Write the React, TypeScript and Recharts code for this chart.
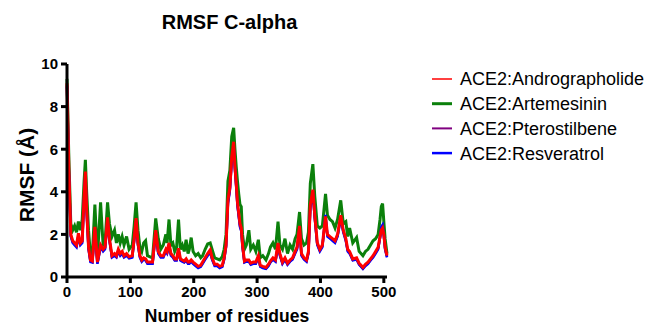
import React from 'react';
import { LineChart, Line, XAxis, YAxis, Label } from 'recharts';

const residues = [
  0, 3, 6, 9, 12, 15, 18, 21, 24, 27,
  29, 31, 34, 37, 40, 44, 48, 53, 57, 60,
  64, 67, 71, 75, 78, 81, 84, 87, 90, 94,
  98, 103, 106, 109, 112, 115, 118, 121, 124, 127,
  131, 135, 140, 144, 148, 152, 156, 158, 161, 164,
  167, 170, 173, 176, 179, 182, 185, 188, 191, 193,
  196, 199, 203, 207, 211, 214, 218, 222, 226, 229,
  233, 237, 241, 245, 248, 251, 254, 257, 260, 263,
  265, 267, 269, 271, 273, 275, 277, 280, 283, 287,
  290, 294, 298, 302, 305, 309, 314, 318, 321, 325,
  329, 333, 336, 340, 344, 348, 352, 356, 360, 363,
  367, 370, 374, 378, 381, 384, 388, 391, 395, 399,
  403, 408, 411, 415, 419, 423, 427, 432, 436, 440,
  443, 446, 451, 457, 461, 464, 467, 471, 475, 479,
  483, 487, 491, 494, 496, 498, 500, 502, 505,
];

const artemesinin = [
  9.3, 5.5, 2.5, 2.2, 2.4, 2.1, 2.6, 2.2, 2.7, 4.5,
  5.5, 4.0, 2.2, 1.0, 1.0, 3.4, 0.9, 3.5, 1.5, 1.6,
  3.5, 2.5, 1.9, 2.2, 1.6, 2.0, 1.6, 1.9, 1.5, 1.9,
  1.3, 1.5, 2.4, 3.5, 2.2, 1.4, 1.2, 1.6, 1.7, 1.0,
  0.95, 0.9, 2.75, 1.8, 1.3, 1.5, 2.0, 1.6, 2.7, 1.5,
  1.6, 1.2, 1.4, 2.7, 1.3, 1.5, 1.2, 1.75, 1.1, 1.3,
  1.85, 1.2, 1.0, 1.1, 0.9, 1.0, 1.3, 1.55, 1.6, 1.3,
  0.9, 0.85, 0.8, 0.95, 1.3, 2.0, 4.5, 5.0, 6.6, 7.0,
  6.0, 5.2, 4.5, 3.9, 3.4, 3.3, 2.0, 1.3, 1.5, 2.2,
  1.3, 1.5, 1.2, 1.75, 0.9, 1.0, 0.8, 1.1, 1.4, 1.6,
  1.3, 2.6, 1.5, 1.3, 1.8, 1.1, 1.5, 1.3, 1.8, 2.0,
  3.05, 1.8, 1.5, 1.6, 2.1, 4.4, 5.3, 3.8, 2.4, 2.3,
  2.4, 3.9, 2.9, 2.7, 2.6, 2.3, 2.7, 3.6, 2.5, 2.6,
  1.9, 2.3, 1.6, 1.85, 1.2, 1.1, 1.0, 1.2, 1.3, 1.5,
  1.7, 1.8, 2.0, 2.7, 3.3, 3.45, 2.6, 1.8, 1.1,
];

const andrographolide = [
  9.1, 5.0, 2.0, 1.7, 1.6, 1.5, 2.05, 1.6, 1.7, 3.8,
  4.95, 3.2, 1.4, 0.8, 0.75, 2.35, 0.7, 1.5, 1.3, 1.4,
  2.8, 1.8, 1.0, 1.1, 1.0, 1.3, 1.1, 1.2, 1.0, 1.1,
  0.95, 1.0, 1.8, 2.76, 1.6, 1.0, 0.8, 0.9, 0.85, 0.7,
  0.7, 0.7, 2.2, 1.2, 1.0, 1.0, 1.3, 1.2, 1.6, 1.1,
  1.0, 0.85, 0.85, 1.35, 0.85, 0.8, 0.75, 0.85, 0.7, 0.7,
  0.8, 0.7, 0.6, 0.5, 0.55, 0.7, 0.9, 1.1, 1.27, 0.9,
  0.6, 0.6, 0.5, 0.55, 0.9, 1.5, 3.6, 4.2, 5.65, 6.35,
  5.2, 4.4, 3.5, 3.0, 2.5, 2.3, 1.5, 0.75, 0.8, 0.8,
  0.65, 0.7, 0.7, 1.0, 0.55, 0.5, 0.45, 0.6, 0.75, 0.9,
  0.8, 1.6, 1.1, 0.7, 0.9, 0.65, 0.8, 0.9, 1.2, 1.4,
  2.4, 1.1, 0.9, 0.8, 1.2, 3.4, 4.1, 2.9, 1.6, 1.3,
  1.5, 2.85, 2.0, 1.9, 1.8, 1.7, 2.0, 2.9, 2.2, 1.8,
  1.3, 1.2, 0.85, 0.9, 0.65, 0.55, 0.45, 0.6, 0.7, 0.85,
  1.0, 1.2, 1.4, 1.9, 2.2, 2.3, 2.0, 1.4, 1.0,
];

const pterostilbene = [
  9.0, 4.9, 1.95, 1.65, 1.55, 1.45, 1.95, 1.55, 1.65, 3.7,
  4.85, 3.1, 1.35, 0.75, 0.7, 2.25, 0.65, 1.45, 1.25, 1.35,
  2.7, 1.75, 0.95, 1.05, 0.95, 1.25, 1.05, 1.15, 0.95, 1.05,
  0.9, 0.95, 1.75, 2.65, 1.55, 0.95, 0.75, 0.85, 0.8, 0.65,
  0.65, 0.65, 2.1, 1.15, 0.95, 0.95, 1.25, 1.15, 1.5, 1.05,
  0.95, 0.8, 0.8, 1.3, 0.8, 0.75, 0.7, 0.8, 0.65, 0.65,
  0.75, 0.65, 0.55, 0.45, 0.5, 0.65, 0.85, 1.05, 1.2, 0.85,
  0.55, 0.55, 0.45, 0.5, 0.85, 1.45, 3.5, 4.1, 5.5, 6.2,
  5.1, 4.3, 3.4, 2.9, 2.4, 2.2, 1.45, 0.7, 0.75, 0.75,
  0.6, 0.65, 0.65, 0.95, 0.5, 0.45, 0.4, 0.55, 0.7, 0.85,
  0.75, 1.5, 1.05, 0.65, 0.85, 0.6, 0.75, 0.85, 1.15, 1.35,
  2.3, 1.05, 0.85, 0.75, 1.15, 3.3, 4.0, 2.8, 1.55, 1.25,
  1.45, 2.75, 1.95, 1.85, 1.75, 1.65, 1.95, 2.8, 2.15, 1.75,
  1.25, 1.15, 0.8, 0.85, 0.6, 0.5, 0.4, 0.55, 0.65, 0.8,
  0.95, 1.15, 1.35, 1.85, 2.15, 2.25, 1.95, 1.35, 0.95,
];

const resveratrol = [
  8.95, 4.85, 1.9, 1.6, 1.5, 1.4, 1.9, 1.5, 1.6, 3.65,
  4.8, 3.05, 1.3, 0.7, 0.68, 2.2, 0.62, 1.4, 1.2, 1.3,
  2.65, 1.7, 0.92, 1.0, 0.92, 1.2, 1.0, 1.1, 0.92, 1.0,
  0.88, 0.92, 1.7, 2.6, 1.5, 0.92, 0.72, 0.82, 0.78, 0.62,
  0.62, 0.62, 2.05, 1.1, 0.92, 0.92, 1.2, 1.1, 1.45, 1.0,
  0.92, 0.78, 0.78, 1.25, 0.78, 0.72, 0.68, 0.78, 0.62, 0.62,
  0.72, 0.62, 0.52, 0.42, 0.48, 0.62, 0.82, 1.0, 1.15, 0.82,
  0.52, 0.52, 0.42, 0.48, 0.82, 1.4, 3.45, 4.05, 5.45, 6.15,
  5.05, 4.25, 3.35, 2.85, 2.35, 2.15, 1.4, 0.68, 0.72, 0.72,
  0.58, 0.62, 0.62, 0.92, 0.48, 0.42, 0.38, 0.52, 0.68, 0.82,
  0.72, 1.45, 1.0, 0.62, 0.82, 0.58, 0.72, 0.82, 1.1, 1.3,
  2.25, 1.0, 0.82, 0.72, 1.1, 3.25, 3.95, 2.75, 1.5, 1.2,
  1.4, 2.92, 1.9, 1.8, 1.7, 1.6, 1.9, 2.75, 2.1, 1.7,
  1.2, 1.1, 0.78, 0.82, 0.58, 0.48, 0.38, 0.52, 0.62, 0.78,
  0.92, 1.1, 1.3, 1.85, 2.35, 2.45, 1.95, 1.3, 0.92,
];

const xTicks = [0, 100, 200, 300, 400, 500];
const yTicks = [0, 2, 4, 6, 8, 10];

const legendItems = [
  { name: 'ACE2:Andrographolide', color: '#ff0000', width: 1.5 },
  { name: 'ACE2:Artemesinin', color: '#0b800b', width: 3 },
  { name: 'ACE2:Pterostilbene', color: '#800080', width: 2 },
  { name: 'ACE2:Resveratrol', color: '#0000ff', width: 2.5 },
];

const data = residues.map((r, i) => ({
  r,
  andro: andrographolide[i],
  artem: artemesinin[i],
  ptero: pterostilbene[i],
  resv: resveratrol[i],
}));

const FONT = '"Liberation Sans", Arial, Helvetica, sans-serif';
const tickStyle = { fill: '#000', fontSize: 15, fontWeight: 700, fontFamily: FONT };

export default function App() {
  return (
    <div style={{ position: 'absolute', left: 0, top: 0, width: 648, height: 326, background: '#fff' }}>
      <LineChart
        width={648}
        height={326}
        data={data}
        margin={{ top: 64, right: 261, bottom: 19, left: 27 }}
      >
        <XAxis
          dataKey="r"
          type="number"
          domain={[0, 505]}
          ticks={xTicks}
          interval={0}
          axisLine={{ stroke: '#000', strokeWidth: 3 }}
          tickLine={{ stroke: '#000', strokeWidth: 3 }}
          tickSize={6}
          tickMargin={3}
          height={30}
          tick={tickStyle}
        >
          <Label
            value="Number of residues"
            position="bottom"
            offset={3}
            style={{ fill: '#000', fontSize: 17.5, fontWeight: 700, fontFamily: FONT }}
          />
        </XAxis>
        <YAxis
          type="number"
          domain={[0, 10]}
          ticks={yTicks}
          interval={0}
          axisLine={{ stroke: '#000', strokeWidth: 3 }}
          tickLine={{ stroke: '#000', strokeWidth: 3 }}
          tickSize={6}
          tickMargin={3}
          width={40}
          tick={tickStyle}
        />
        <Line type="linear" dataKey="artem" stroke="#0b800b" strokeWidth={3} dot={false} isAnimationActive={false} />
        <Line type="linear" dataKey="ptero" stroke="#800080" strokeWidth={2.5} dot={false} isAnimationActive={false} />
        <Line type="linear" dataKey="resv" stroke="#0000ff" strokeWidth={2.5} dot={false} isAnimationActive={false} />
        <Line type="linear" dataKey="andro" stroke="#ff0000" strokeWidth={3} dot={false} isAnimationActive={false} />
      </LineChart>
      <svg
        width={648}
        height={326}
        style={{ position: 'absolute', left: 0, top: 0, pointerEvents: 'none' }}
      >
        <text x={229.5} y={28.5} textAnchor="middle" fontFamily={FONT} fontWeight={700} fontSize={20} fill="#000">
          RMSF C-alpha
        </text>
        <text
          x={26}
          y={175}
          textAnchor="middle"
          dominantBaseline="central"
          transform="rotate(-90 26 175)"
          fontFamily={FONT}
          fontWeight={700}
          fontSize={21}
          fill="#000"
        >
          RMSF (Å)
        </text>
        {legendItems.map((item, i) => {
          const cy = 79 + i * 24.7;
          return (
            <g key={item.name}>
              <line x1={432} x2={452} y1={cy} y2={cy} stroke={item.color} strokeWidth={item.width} />
              <text x={460} y={cy + 6.4} fontFamily={FONT} fontSize={18} fill="#000">
                {item.name}
              </text>
            </g>
          );
        })}
      </svg>
    </div>
  );
}
